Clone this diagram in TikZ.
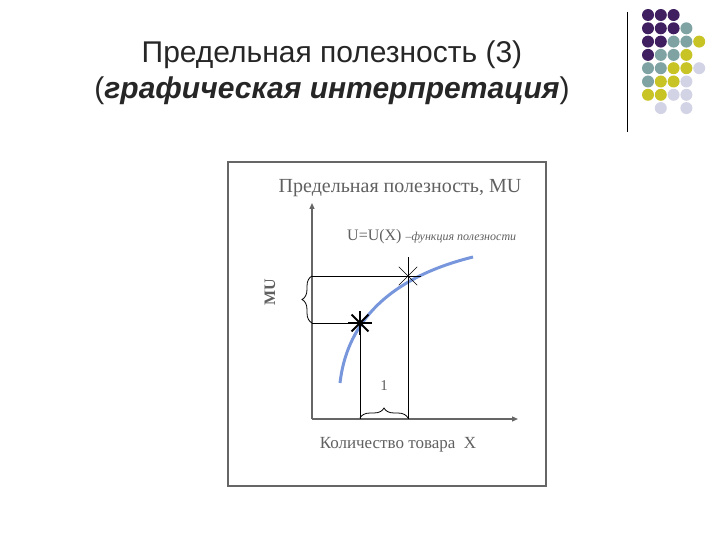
\documentclass[tikz,border=0pt]{standalone}
\usepackage{fontspec}
\setmainfont{Liberation Serif}
\setsansfont{Liberation Sans}
\usetikzlibrary{decorations.pathreplacing,arrows.meta,calc}
\definecolor{pur}{HTML}{3F1F5F}
\definecolor{teal}{HTML}{7FA3A3}
\definecolor{yel}{HTML}{C8C425}
\definecolor{lil}{HTML}{D3D3E6}
\definecolor{txt}{HTML}{606060}
\definecolor{crv}{RGB}{120,150,220}
\begin{document}
\begin{tikzpicture}[x=1pt,y=-1pt,
  dot/.style={circle,inner sep=0pt,minimum size=12pt},
  axis/.style={draw=gray!80!black,line width=1.3pt,-{Triangle[length=6pt,width=5pt]}},
  thin/.style={draw=black,line width=0.8pt},
  lbl/.style={text=txt,font=\fontsize{20}{22}\selectfont}]
\useasboundingbox (0,0) rectangle (720,540);
\node[font=\sffamily\fontsize{30}{34}\selectfont,text=black!85] (t1) at (332,55) {Предельная полезность (3)};
\node[font=\sffamily\fontsize{30}{34}\selectfont,text=black!85] (t2) at (332,91) {(\textbf{\textit{графическая интерпретация}})};
\draw[line width=1pt] (627,12) coordinate (v1) -- (627,132) coordinate (v2);
\foreach \r/\cols in {0/{0/pur,1/pur,2/pur},1/{0/pur,1/pur,2/pur,3/teal},2/{0/pur,1/pur,2/teal,3/teal,4/yel},3/{0/pur,1/teal,2/teal,3/yel},4/{0/teal,1/teal,2/yel,3/yel,4/lil},5/{0/teal,1/yel,2/yel,3/lil},6/{0/yel,1/yel,2/lil,3/lil},7/{1/lil,3/lil}}{
  \foreach \c/\col in \cols {\node[dot,fill=\col] (d\r\c) at (648+12.8*\c,15+13.3*\r) {};}}
\draw[gray!80!black,line width=2.5pt] (228,162) rectangle (546,486);
\node[lbl] (ylab) at (400,188) {Предельная полезность, MU};
\node[text=txt,anchor=west,inner sep=0pt] (fl) at (347,237) {\fontsize{16}{18}\selectfont U=U(X) \fontsize{12}{14}\selectfont\itshape –функция полезности};
\node[text=txt,font=\fontsize{17}{19}\selectfont] (xlab) at (398,445) {Количество товара\ \ X};
\coordinate (O) at (312,419);
\coordinate (Y) at (312,203);
\coordinate (X) at (518,419);
\draw[axis] (O) -- (Y);
\draw[axis] (O) -- (X);
\draw[crv,line width=3pt] (340,383) .. controls (346,330) and (380,280) .. (473,257);
\coordinate (A) at (360,323);
\coordinate (B) at (408,276);
\draw[thin] (A) -- (360,419);
\draw[thin] (408,257) -- (408,419);
\draw[thin] (312,323) -- (A);
\draw[thin] (312,276) -- (B);
\foreach \a in {0,45,90,135}{
  \draw[line width=1.8pt] ($(A)+(\a:12)$) -- ($(A)+(\a+180:12)$);
  \draw[line width=0.6pt] ($(B)+(\a:13)$) -- ($(B)+(\a+180:13)$);}
\draw[thin,decorate,decoration={brace,amplitude=10pt}] (312,323) -- (312,276);
\node[text=txt,rotate=90,font=\bfseries\fontsize{16}{18}\selectfont] (mu) at (270,292) {MU};
\draw[thin,decorate,decoration={brace,amplitude=10pt}] (360,418) -- (408,418);
\node[text=txt,font=\fontsize{15}{17}\selectfont] (one) at (384,386) {1};
\end{tikzpicture}
\end{document}
